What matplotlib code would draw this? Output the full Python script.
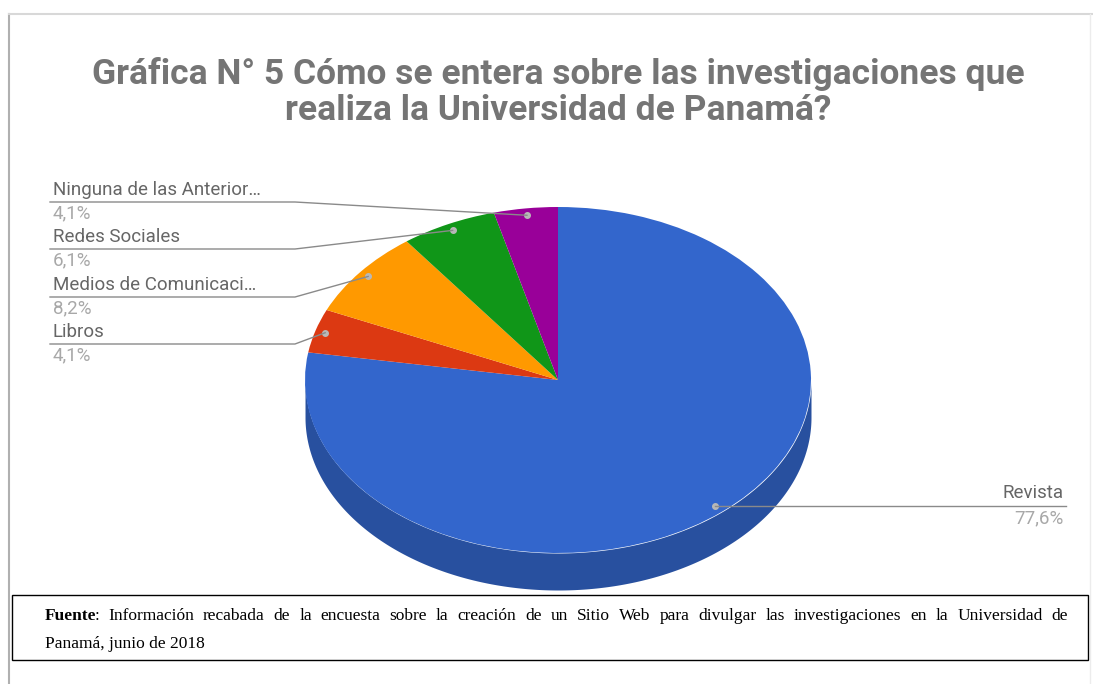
import numpy as np
import matplotlib.pyplot as plt
from matplotlib.colors import to_rgb

# data: respondents per answer (n = 49)
categorias = ["Revista", "Libros", "Medios de Comunicaci…", "Redes Sociales", "Ninguna de las Anterior…"]
conteos = [38, 2, 4, 3, 2]
colores = ["#3366cc", "#dc3912", "#ff9900", "#109618", "#990099"]

titulo = "Gráfica N° 5 Cómo se entera sobre las investigaciones que\nrealiza la Universidad de Panamá?"
fuente_1 = "Información recabada de la encuesta sobre la creación de un Sitio Web para divulgar las investigaciones en la Universidad de"
fuente_2 = "Panamá, junio de 2018"

W, H = 1093, 684
fig = plt.figure(figsize=(W / 100, H / 100), dpi=100)

# pie geometry (pixels)
cx, cy, rx, ry, depth = 558, 380, 253, 173, 37
d = depth / ry

axp = fig.add_axes([(cx - rx) / W, (H - (cy + ry + depth)) / H, 2 * rx / W, (2 * ry + depth) / H])
wedges, _ = axp.pie(conteos, colors=colores, startangle=90, counterclock=False,
                    radius=1, wedgeprops=dict(linewidth=0))
for w in wedges:
    w.set_zorder(3)
axp.set_aspect("auto")
axp.set_xlim(-1, 1)
axp.set_ylim(-1 - d, 1)
axp.axis("off")

# side of the 3d pie
frac = np.array(conteos) / sum(conteos)
ends = np.cumsum(frac)
starts = ends - frac
for s, e, c in zip(starts, ends, colores):
    t = np.radians(np.linspace(90 - e * 360, 90 - s * 360, 400))
    mask = np.sin(t) <= 0
    if mask.any():
        side = tuple(v * 0.78 for v in to_rgb(c))
        axp.fill_between(np.cos(t), np.sin(t) - d, np.sin(t), where=mask,
                         color=side, linewidth=0, zorder=2)

# anchor dots
mids = np.radians(90 - (starts + ends) / 2 * 360)
dx, dy = 0.96 * np.cos(mids), 0.96 * np.sin(mids)
axp.plot(dx, dy, "o", color="#b8b8b8", ms=4, zorder=4)

# overlay axes in pixel coordinates
ax = fig.add_axes([0, 0, 1, 1], zorder=5)
ax.patch.set_visible(False)
ax.set_xlim(0, W)
ax.set_ylim(H, 0)
ax.axis("off")

fig.canvas.draw()
pts = ax.transData.inverted().transform(axp.transData.transform(np.column_stack([dx, dy])))

pct = ["{:.1f}%".format(v * 100).replace(".", ",") for v in frac]
lc = "#8a8a8a"
fs = 13.5

# right label (Revista)
px, py = pts[0]
ax.plot([px, 1066], [py, py], color=lc, lw=1)
ax.text(1064, py - 4, categorias[0], ha="right", va="bottom", fontsize=fs,
        color="#666666", family="Roboto")
ax.text(1064, py + 3, pct[0], ha="right", va="top", fontsize=fs,
        color="#a8a8a8", family="Roboto")

# left labels
line_y = {1: 344, 2: 297, 3: 249, 4: 202}
for i in range(1, len(categorias)):
    px, py = pts[i]
    ly = line_y[i]
    ax.plot([50, 295, px], [ly, ly, py], color=lc, lw=1)
    ax.text(53, ly - 3, categorias[i], ha="left", va="bottom", fontsize=fs,
            color="#666666", family="Roboto")
    ax.text(53, ly + 2, pct[i], ha="left", va="top", fontsize=fs,
            color="#a8a8a8", family="Roboto")

# title
ax.text(558, 92, titulo, ha="center", va="center", fontsize=25.5, fontweight="bold",
        color="#757575", family="Roboto", linespacing=1.08)

# outer frame
ax.plot([9, 9], [14, H], color="#b0b0b0", lw=1.5)
ax.plot([9, W], [14, 14], color="#d8d8d8", lw=1.5)
ax.plot([1090, 1090], [14, H], color="#ececec", lw=1)

# source box
ax.add_patch(plt.Rectangle((12, 595), 1076, 65, fill=False, edgecolor="black", lw=1))
ffs = 12.5
renderer = fig.canvas.get_renderer()


def width_px(txt):
    return txt.get_window_extent(renderer).width


# first line, justified between x=45 and x=1068
palabras = fuente_1.split(" ")
x0, x1, y1 = 45, 1068, 616
t_bold = ax.text(x0, y1, "Fuente", ha="left", va="center", fontsize=ffs,
                 fontweight="bold", family="Liberation Serif", color="black")
t_col = ax.text(x0, y1, ":", ha="left", va="center", fontsize=ffs,
                family="Liberation Serif", color="black")
objs = [ax.text(x0, y1, p, ha="left", va="center", fontsize=ffs,
                family="Liberation Serif", color="black") for p in palabras]
fig.canvas.draw()
w_first = width_px(t_bold) + width_px(t_col) - 2
ws = [width_px(o) for o in objs]
total = w_first + sum(ws)
gap = ((x1 - x0) - total) / len(objs)
t_col.set_x(x0 + width_px(t_bold) - 2)
x = x0 + w_first + gap
for o, w in zip(objs, ws):
    o.set_x(x)
    x += w + gap

ax.text(x0, 644, fuente_2, ha="left", va="center", fontsize=ffs,
        family="Liberation Serif", color="black")

fig.savefig("out.png", dpi=100, facecolor="white")
